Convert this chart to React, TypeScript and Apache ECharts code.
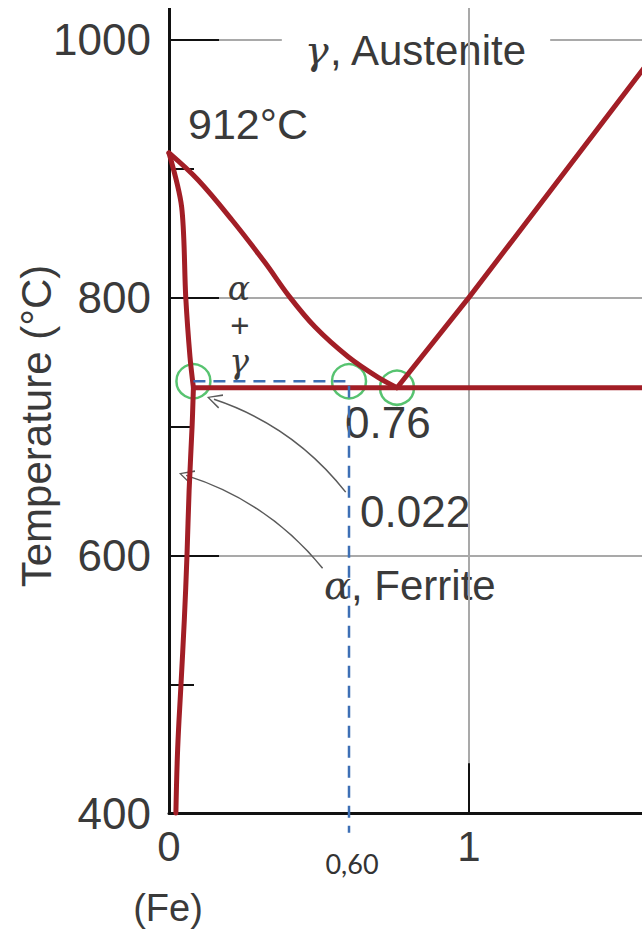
import React, { useEffect, useRef } from "react";
import * as echarts from "echarts";

// ---- axes (wt% C, °C) ----
const X_MIN = 0;
const X_VIEW_MAX = 2;
const X_TICK_STEP = 1;
const Y_MIN = 400;
const Y_VIEW_MAX = 1100;
const Y_TICK_STEP = 200;
// the ferrite field is drawn on an expanded composition scale
const FERRITE_SCALE = 3.7;

// ---- key points ----
const ALLOTROPIC_T = 912;
const EUTECTOID_T = 730;
const EUTECTOID_C = 0.76;
const FERRITE_MAX_C = 0.022;
const ALLOY_C = 0.6;
const TIE_T = 735;
const TIE_BOTTOM_T = 385;

// γ / (α + γ) boundary
const a3Line: [number, number][] = [
  [0, ALLOTROPIC_T],
  [0.097, 891],
  [0.21, 860],
  [0.32, 827],
  [0.4, 801],
  [0.487, 777],
  [0.597, 754],
  [0.697, 738],
  [EUTECTOID_C, EUTECTOID_T],
];

// γ / (γ + Fe3C) boundary
const acmLine: [number, number][] = [
  [EUTECTOID_C, EUTECTOID_T],
  [1.0, 800],
  [1.6, 983],
];

// α / (α + γ) boundary (expanded scale)
const ferriteUpper: [number, number][] = [
  [0, ALLOTROPIC_T],
  [0.0114, 870],
  [0.0151, 800],
  [0.0189, 754],
  [FERRITE_MAX_C, EUTECTOID_T],
];

// carbon solubility limit in α (expanded scale)
const ferriteSolvus: [number, number][] = [
  [FERRITE_MAX_C, EUTECTOID_T],
  [0.0208, 700],
  [0.0181, 650],
  [0.0162, 600],
  [0.0138, 550],
  [0.0108, 500],
  [0.0078, 450],
  [0.0062, 400],
];

// pointer arrows: tail -> head
const arrowLinks: { from: [number, number]; to: [number, number] }[] = [
  { from: [0.589, 649], to: [0.15, 721] },
  { from: [0.512, 590], to: [0.057, 662] },
];

const RED = "#a21e26";
const GREEN = "#2db44c";
const BLUE = "#3d6fb5";
const TEXT = "#3a3a3a";
const GRID = "#a9a9a9";
const SANS = "'Liberation Sans', Arial, sans-serif";
const SERIF = "'DejaVu Serif', serif";

const ARROW_HEAD = "path://M5,0 L10,14 L9,14.6 L5,2.6 L1,14.6 L0,14 Z";

export default function App() {
  const ref = useRef<HTMLDivElement>(null);

  useEffect(() => {
    if (!ref.current) return;
    const chart = echarts.init(ref.current, undefined, { renderer: "svg" });

    const ferriteC = FERRITE_MAX_C * FERRITE_SCALE;
    const redLine = { color: RED, width: 5, cap: "round" as const, join: "round" as const };

    chart.setOption({
      animation: false,
      backgroundColor: "#ffffff",
      grid: {
        left: 169,
        right: -127,
        top: -97.5,
        bottom: 116.7,
        containLabel: false,
        outerBoundsMode: "none",
      },
      xAxis: [
        {
          type: "value",
          min: X_MIN,
          max: X_VIEW_MAX,
          interval: X_TICK_STEP,
          z: 2,
          axisLine: { show: true, onZero: false, lineStyle: { color: "#111", width: 3 } },
          axisTick: { show: true, inside: true, length: 50, lineStyle: { color: "#111", width: 2 } },
          axisLabel: {
            fontSize: 42,
            color: TEXT,
            fontFamily: SANS,
            margin: 12,
            showMaxLabel: false,
            formatter: (v: number) => String(v),
          },
          splitLine: { show: true, showMinLine: false, showMaxLine: false, lineStyle: { color: GRID, width: 2 } },
        },
        {
          type: "value",
          min: X_MIN,
          max: X_VIEW_MAX / FERRITE_SCALE,
          show: false,
        },
      ],
      yAxis: {
        type: "value",
        min: Y_MIN,
        max: Y_VIEW_MAX,
        interval: Y_TICK_STEP,
        axisLine: { show: true, onZero: false, lineStyle: { color: "#111", width: 3 } },
        axisTick: { show: true, inside: true, length: 50, lineStyle: { color: "#111", width: 2 } },
        minorTick: { show: true, splitNumber: 2, length: 25, lineStyle: { color: "#111", width: 2 } },
        axisLabel: {
          fontSize: 44,
          color: TEXT,
          fontFamily: SANS,
          margin: 18,
          showMaxLabel: false,
          formatter: (v: number) => String(v),
        },
        splitLine: { show: true, showMaxLine: false, lineStyle: { color: GRID, width: 2 } },
      },
      series: [
        {
          type: "line",
          data: a3Line,
          smooth: 0.35,
          showSymbol: false,
          lineStyle: redLine,
        },
        {
          type: "line",
          data: acmLine,
          showSymbol: false,
          lineStyle: redLine,
        },
        {
          type: "line",
          xAxisIndex: 1,
          data: ferriteUpper,
          smooth: 0.3,
          showSymbol: false,
          lineStyle: redLine,
        },
        {
          type: "line",
          xAxisIndex: 1,
          data: ferriteSolvus,
          smooth: 0.4,
          showSymbol: false,
          lineStyle: redLine,
        },
        {
          type: "line",
          data: [
            [ferriteC, EUTECTOID_T],
            [1.6, EUTECTOID_T],
          ],
          showSymbol: false,
          lineStyle: { color: RED, width: 5 },
        },
        {
          type: "line",
          data: [
            [ferriteC, TIE_T],
            [ALLOY_C, TIE_T],
            [ALLOY_C, TIE_BOTTOM_T],
          ],
          clip: false,
          showSymbol: false,
          lineStyle: { color: BLUE, width: 2.5, type: [12, 8] },
        },
        {
          type: "scatter",
          xAxisIndex: 1,
          data: [[FERRITE_MAX_C, TIE_T]],
          symbol: "circle",
          symbolSize: 34,
          itemStyle: { color: "transparent", borderColor: GREEN, borderWidth: 2.5 },
        },
        {
          type: "scatter",
          data: [
            [ALLOY_C, TIE_T],
            [EUTECTOID_C, EUTECTOID_T],
          ],
          symbol: "circle",
          symbolSize: 34,
          itemStyle: { color: "transparent", borderColor: GREEN, borderWidth: 2.5 },
        },
        {
          type: "lines",
          coordinateSystem: "cartesian2d",
          data: arrowLinks.map((a) => ({ coords: [a.from, a.to] })),
          symbol: ["none", ARROW_HEAD],
          symbolSize: [11, 15],
          lineStyle: { color: "#5a5a5a", width: 1.5, curveness: -0.15, opacity: 1 },
        },
      ],
      graphic: [
        {
          type: "text",
          x: 36,
          y: 418,
          rotation: Math.PI / 2,
          z: 1,
          style: {
            text: "Temperature (°C)",
            fontSize: 42,
            fontFamily: SANS,
            fill: TEXT,
            align: "center",
            verticalAlign: "middle",
          },
        },
        {
          type: "text",
          x: 416,
          y: 42,
          z: 1,
          style: {
            text: "{g|γ}, Austenite",
            fontSize: 42,
            fontFamily: SANS,
            fill: TEXT,
            align: "center",
            verticalAlign: "middle",
            backgroundColor: "#ffffff",
            padding: [4, 23],
            rich: {
              g: { fontSize: 40, fontFamily: SERIF, fontStyle: "italic", fill: TEXT },
            },
          },
        },
        {
          type: "text",
          x: 248,
          y: 116,
          z: 1,
          style: { text: "912°C", fontSize: 43, fontFamily: SANS, fill: TEXT, align: "center", verticalAlign: "middle" },
        },
        {
          type: "text",
          x: 239,
          y: 280,
          z: 1,
          style: {
            text: "α",
            fontSize: 33,
            lineHeight: 28,
            fontFamily: SERIF,
            fontStyle: "italic",
            fill: TEXT,
            align: "center",
            verticalAlign: "middle",
          },
        },
        {
          type: "text",
          x: 240,
          y: 317,
          z: 1,
          style: {
            text: "+",
            fontSize: 33,
            lineHeight: 28,
            fontFamily: SANS,
            fill: TEXT,
            align: "center",
            verticalAlign: "middle",
          },
        },
        {
          type: "text",
          x: 239,
          y: 353,
          z: 1,
          style: {
            text: "γ",
            fontSize: 33,
            lineHeight: 28,
            fontFamily: SERIF,
            fontStyle: "italic",
            fill: TEXT,
            align: "center",
            verticalAlign: "middle",
          },
        },
        {
          type: "text",
          x: 345,
          y: 414,
          z: 1,
          style: { text: "0.76", fontSize: 44, fontFamily: SANS, fill: TEXT, align: "left", verticalAlign: "middle" },
        },
        {
          type: "text",
          x: 360,
          y: 503,
          z: 1,
          style: { text: "0.022", fontSize: 44, fontFamily: SANS, fill: TEXT, align: "left", verticalAlign: "middle" },
        },
        {
          type: "text",
          x: 324,
          y: 577,
          z: 1,
          style: {
            text: "{a|α}, Ferrite",
            fontSize: 42,
            fontFamily: SANS,
            fill: TEXT,
            align: "left",
            verticalAlign: "middle",
            rich: { a: { fontSize: 40, fontFamily: SERIF, fontStyle: "italic", fill: TEXT } },
          },
        },
        {
          type: "text",
          x: 352,
          y: 855,
          z: 1,
          style: { text: "0,60", fontSize: 27, fontFamily: "Lato, 'Open Sans', sans-serif", fill: "#333", align: "center", verticalAlign: "middle" },
        },
        {
          type: "text",
          x: 168,
          y: 900,
          z: 1,
          style: {
            text: "(Fe)",
            fontSize: 38,
            lineHeight: 38,
            fontFamily: SANS,
            fill: TEXT,
            align: "center",
            verticalAlign: "middle",
          },
        },
      ],
    });

    return () => chart.dispose();
  }, []);

  return (
    <div
      ref={ref}
      style={{ position: "absolute", left: 0, top: 8, width: 642, height: 922, overflow: "hidden" }}
    />
  );
}
